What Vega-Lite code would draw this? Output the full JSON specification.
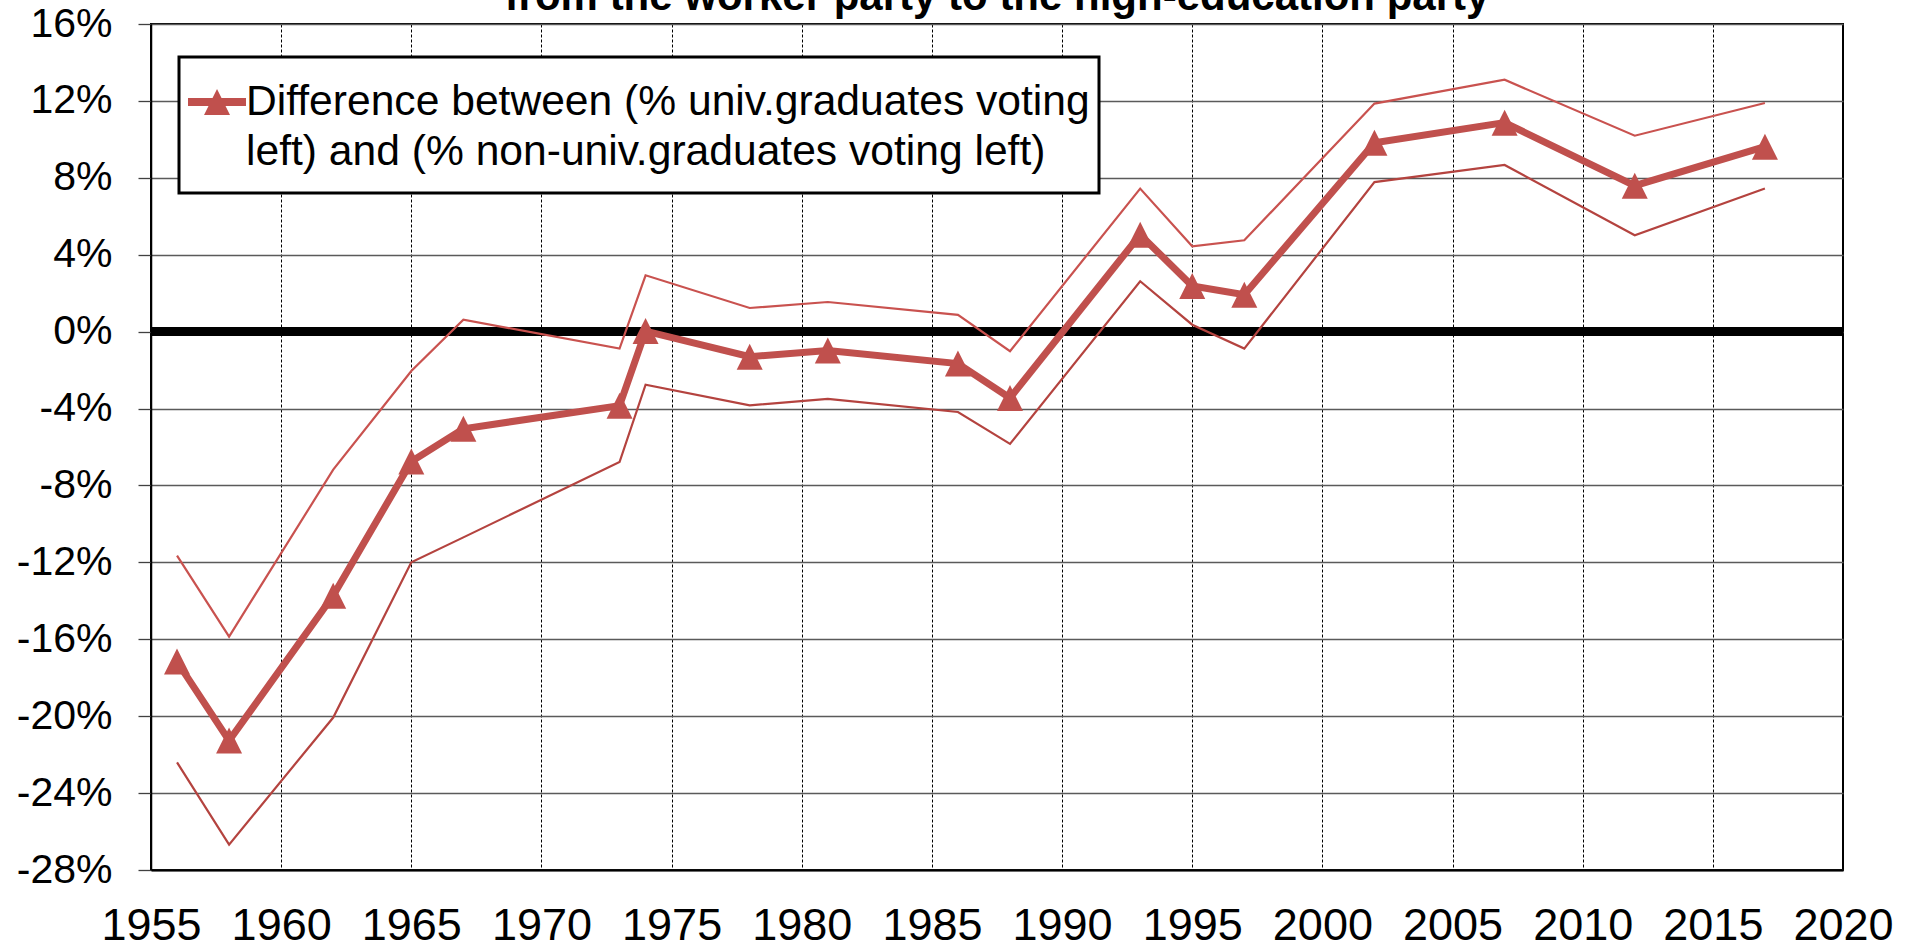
{
  "$schema": "https://vega.github.io/schema/vega-lite/v6.json",
  "width": 1692,
  "height": 846,
  "autosize": {"type": "none"},
  "padding": {"left": 151, "top": 24, "right": 74, "bottom": 78},
  "background": "white",
  "title": {
    "text": "from the worker party to the high-education party",
    "font": "Liberation Sans",
    "fontSize": 42,
    "fontWeight": "bold",
    "color": "black",
    "anchor": "middle",
    "frame": "group",
    "baseline": "alphabetic",
    "offset": -49
  },
  "data": {
    "values": [
      {"year": 1956, "mid": -17.16, "upper": -11.65, "lower": -22.4, "series": "Difference between (% univ.graduates voting left) and (% non-univ.graduates voting left)"},
      {"year": 1958, "mid": -21.27, "upper": -15.86, "lower": -26.68, "series": "Difference between (% univ.graduates voting left) and (% non-univ.graduates voting left)"},
      {"year": 1962, "mid": -13.73, "upper": -7.18, "lower": -20.07, "series": "Difference between (% univ.graduates voting left) and (% non-univ.graduates voting left)"},
      {"year": 1965, "mid": -6.76, "upper": -2.05, "lower": -12.0, "series": "Difference between (% univ.graduates voting left) and (% non-univ.graduates voting left)"},
      {"year": 1967, "mid": -5.05, "upper": 0.62, "lower": -10.7, "series": "Difference between (% univ.graduates voting left) and (% non-univ.graduates voting left)"},
      {"year": 1973, "mid": -3.85, "upper": -0.88, "lower": -6.78, "series": "Difference between (% univ.graduates voting left) and (% non-univ.graduates voting left)"},
      {"year": 1974, "mid": 0.03, "upper": 2.93, "lower": -2.76, "series": "Difference between (% univ.graduates voting left) and (% non-univ.graduates voting left)"},
      {"year": 1978, "mid": -1.3, "upper": 1.23, "lower": -3.83, "series": "Difference between (% univ.graduates voting left) and (% non-univ.graduates voting left)"},
      {"year": 1981, "mid": -0.98, "upper": 1.54, "lower": -3.5, "series": "Difference between (% univ.graduates voting left) and (% non-univ.graduates voting left)"},
      {"year": 1986, "mid": -1.66, "upper": 0.87, "lower": -4.18, "series": "Difference between (% univ.graduates voting left) and (% non-univ.graduates voting left)"},
      {"year": 1988, "mid": -3.45, "upper": -1.02, "lower": -5.84, "series": "Difference between (% univ.graduates voting left) and (% non-univ.graduates voting left)"},
      {"year": 1993, "mid": 5.04, "upper": 7.44, "lower": 2.62, "series": "Difference between (% univ.graduates voting left) and (% non-univ.graduates voting left)"},
      {"year": 1995, "mid": 2.38, "upper": 4.44, "lower": 0.36, "series": "Difference between (% univ.graduates voting left) and (% non-univ.graduates voting left)"},
      {"year": 1997, "mid": 1.92, "upper": 4.75, "lower": -0.88, "series": "Difference between (% univ.graduates voting left) and (% non-univ.graduates voting left)"},
      {"year": 2002, "mid": 9.82, "upper": 11.86, "lower": 7.78, "series": "Difference between (% univ.graduates voting left) and (% non-univ.graduates voting left)"},
      {"year": 2007, "mid": 10.87, "upper": 13.1, "lower": 8.67, "series": "Difference between (% univ.graduates voting left) and (% non-univ.graduates voting left)"},
      {"year": 2012, "mid": 7.59, "upper": 10.19, "lower": 5.01, "series": "Difference between (% univ.graduates voting left) and (% non-univ.graduates voting left)"},
      {"year": 2017, "mid": 9.62, "upper": 11.89, "lower": 7.44, "series": "Difference between (% univ.graduates voting left) and (% non-univ.graduates voting left)"}
    ]
  },
  "encoding": {
    "x": {
      "field": "year",
      "type": "quantitative",
      "title": null,
      "scale": {"domain": [1955, 2020], "nice": false, "zero": false},
      "axis": {
        "values": [1955, 1960, 1965, 1970, 1975, 1980, 1985, 1990, 1995, 2000, 2005, 2010, 2015, 2020],
        "format": "d"
      }
    }
  },
  "layer": [
    {
      "mark": {"type": "rule", "color": "black", "strokeWidth": 8},
      "encoding": {
        "y": {
          "datum": 0,
          "type": "quantitative",
          "title": null,
          "scale": {"domain": [-28, 16], "nice": false, "zero": false},
          "axis": {"values": [-28, -24, -20, -16, -12, -8, -4, 0, 4, 8, 12, 16], "labelExpr": "datum.value + '%'"}
        },
        "x": {"datum": 1955, "type": "quantitative"},
        "x2": {"datum": 2020}
      }
    },
    {
      "mark": {"type": "line", "color": "#C9524F", "strokeWidth": 2.2},
      "encoding": {
        "y": {
          "field": "upper",
          "type": "quantitative",
          "title": null,
          "scale": {"domain": [-28, 16], "nice": false, "zero": false},
          "axis": {"values": [-28, -24, -20, -16, -12, -8, -4, 0, 4, 8, 12, 16], "labelExpr": "datum.value + '%'"}
        }
      }
    },
    {
      "mark": {"type": "line", "color": "#B4433F", "strokeWidth": 2.2},
      "encoding": {
        "y": {
          "field": "lower",
          "type": "quantitative",
          "title": null,
          "scale": {"domain": [-28, 16], "nice": false, "zero": false},
          "axis": {"values": [-28, -24, -20, -16, -12, -8, -4, 0, 4, 8, 12, 16], "labelExpr": "datum.value + '%'"}
        }
      }
    },
    {
      "mark": {"type": "line", "color": "#C0504D", "strokeWidth": 7},
      "encoding": {
        "y": {
          "field": "mid",
          "type": "quantitative",
          "title": null,
          "scale": {"domain": [-28, 16], "nice": false, "zero": false},
          "axis": {"values": [-28, -24, -20, -16, -12, -8, -4, 0, 4, 8, 12, 16], "labelExpr": "datum.value + '%'"}
        }
      }
    },
    {
      "mark": {"type": "point", "filled": true, "opacity": 1, "shape": "M-1,1L0,-1L1,1Z", "size": 676, "strokeWidth": 0},
      "encoding": {
        "y": {
          "field": "mid",
          "type": "quantitative",
          "title": null,
          "scale": {"domain": [-28, 16], "nice": false, "zero": false},
          "axis": {"values": [-28, -24, -20, -16, -12, -8, -4, 0, 4, 8, 12, 16], "labelExpr": "datum.value + '%'"}
        },
        "color": {
          "field": "series",
          "type": "nominal",
          "scale": {"range": ["#C0504D"]},
          "legend": {
            "title": " ",
            "titleOrient": "bottom",
            "titleFontSize": 6,
            "titlePadding": 4,
            "orient": "none",
            "legendX": 28,
            "legendY": 33,
            "padding": 9,
            "strokeColor": "black",
            "fillColor": "white",
            "labelFont": "Liberation Sans",
            "labelFontSize": 42.6,
            "labelColor": "black",
            "labelLimit": 3000,
            "labelOffset": -14,
            "labelBaseline": "middle",
            "labelExpr": "['Difference between (% univ.graduates voting', 'left) and (% non-univ.graduates voting left)']",
            "symbolType": "M-1,-0.111L0.611,-0.111L0.611,0.111L-1,0.111Z M-0.194,-0.361L0.167,0.361L-0.555,0.361Z",
            "symbolSize": 5184,
            "symbolFillColor": "#C0504D",
            "symbolStrokeWidth": 0,
            "symbolOpacity": 1,
            "encode": {
              "labels": {
                "lineHeight": {"value": 50}
              }
            }
          }
        }
      }
    }
  ],
  "config": {
    "font": "Liberation Sans",
    "style": {"guide-label": {"lineHeight": 50}},
    "view": {"stroke": "black", "strokeWidth": 2},
    "legend": {"strokeWidth": 3},
    "axisX": {
      "labelFont": "Liberation Sans",
      "labelFontSize": 45,
      "labelColor": "black",
      "labelPadding": 33,
      "labelFlush": false,
      "labelOverlap": false,
      "tickSize": 0,
      "ticks": false,
      "grid": true,
      "gridColor": "black",
      "gridDash": [3, 2],
      "gridWidth": 1,
      "domainColor": "black",
      "domainWidth": 2
    },
    "axisY": {
      "labelFont": "Liberation Sans",
      "labelFontSize": 41,
      "labelColor": "black",
      "labelPadding": 26,
      "labelFlush": false,
      "labelOverlap": false,
      "tickSize": 13,
      "tickColor": "#404040",
      "tickWidth": 1.3,
      "grid": true,
      "gridColor": "#5a5a5a",
      "gridWidth": 1.3,
      "domainColor": "black",
      "domainWidth": 1.5
    }
  }
}
